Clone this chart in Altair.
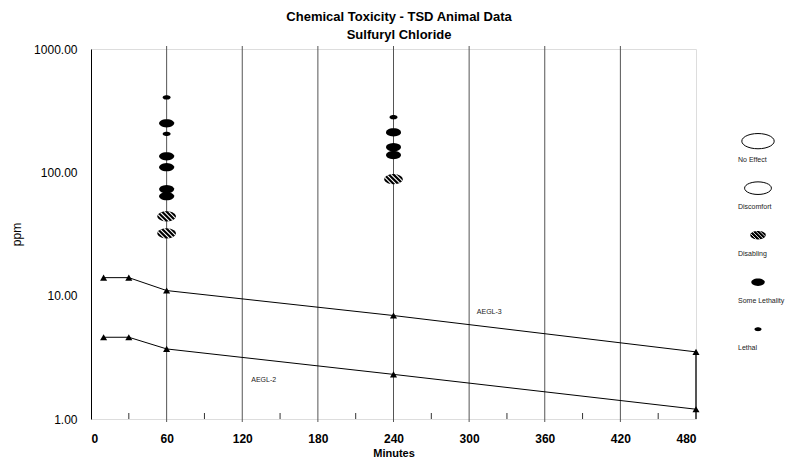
import altair as alt
import pandas as pd
import numpy as np

# ---- data ----
pt_minutes = [60, 60, 60, 60, 60, 60, 60, 60, 60, 240, 240, 240, 240, 240]
pt_ppm = [405, 250, 205, 135, 110, 73, 64, 44, 32, 280, 211, 160, 138, 88]
pt_effect = ["Lethal", "Some Lethality", "Lethal", "Some Lethality", "Some Lethality",
             "Some Lethality", "Some Lethality", "Disabling", "Disabling",
             "Lethal", "Some Lethality", "Some Lethality", "Some Lethality", "Disabling"]

aegl_minutes = [10, 30, 60, 240, 480]
aegl3_ppm = [14, 14, 11, 6.9, 3.5]
aegl2_ppm = [4.6, 4.6, 3.7, 2.3, 1.2]

label_text = ["AEGL-3", "AEGL-2"]
label_minutes = [316, 137]
label_ppm = [7.4, 2.07]

x_ticks = [0, 60, 120, 180, 240, 300, 360, 420, 480]
grid_minutes = [60, 120, 180, 240, 300, 360, 420]
minor_minutes = [30, 90, 150, 210, 270, 330, 390, 450]
y_ticks = [1, 10, 100, 1000]

legend_labels = ["No Effect", "Discomfort", "Disabling", "Some Lethality", "Lethal"]

# ---- shapes (style) ----
def ellipse_path(ry, n=28):
    t = np.linspace(0, 2 * np.pi, n, endpoint=False)
    pts = ["%.3f %.3f" % (np.cos(a), ry * np.sin(a)) for a in t]
    return "M " + " L ".join(pts) + " Z"

def hatch_path(ry, cs):
    segs = []
    for c in cs:
        a = ry * ry + 1
        b = -2 * c
        cc = c * c - ry * ry
        d = b * b - 4 * a * cc
        if d <= 0:
            continue
        x1 = (-b - np.sqrt(d)) / (2 * a)
        x2 = (-b + np.sqrt(d)) / (2 * a)
        segs.append("M %.3f %.3f L %.3f %.3f" % (x1, x1 - c, x2, x2 - c))
    return " ".join(segs)

ELL = ellipse_path(0.55)
ELL_OPEN = ellipse_path(0.47)
HATCH = hatch_path(0.55, [-0.75, -0.25, 0.25, 0.75])

FONT = "Liberation Sans"

pts = pd.DataFrame({"minutes": pt_minutes, "ppm": pt_ppm, "effect": pt_effect})
aegl = pd.DataFrame({
    "minutes": aegl_minutes * 2,
    "ppm": aegl3_ppm + aegl2_ppm,
    "series": ["AEGL-3"] * len(aegl_minutes) + ["AEGL-2"] * len(aegl_minutes),
})
labels = pd.DataFrame({"text": label_text, "minutes": label_minutes, "ppm": label_ppm})
grid = pd.DataFrame({"minutes": grid_minutes})
minor = pd.DataFrame({"minutes": minor_minutes})
end_rule = pd.DataFrame({"minutes": [aegl_minutes[-1]], "ppm": [1], "ppm2": [aegl3_ppm[-1]]})

W, H = 605, 370

X = alt.X("minutes:Q",
          scale=alt.Scale(domain=[0, 480], nice=False, zero=False),
          axis=alt.Axis(values=x_ticks, grid=False, ticks=False, domain=False,
                        labelPadding=14, labelFontSize=12, labelFontWeight="bold",
                        labelColor="black", labelFont=FONT,
                        title="Minutes", titleFontSize=11, titleFontWeight="bold",
                        titleColor="black", titleFont=FONT, titlePadding=3))
Y = alt.Y("ppm:Q",
          scale=alt.Scale(type="log", domain=[1, 1000], nice=False),
          axis=alt.Axis(values=y_ticks, format=".2f", grid=False, ticks=False,
                        domainColor="black", domainWidth=1,
                        labelPadding=14, labelFontSize=12, labelColor="black", labelFont=FONT,
                        title="ppm", titleFontSize=12, titleFontWeight="normal",
                        titleColor="black", titleFont=FONT, titlePadding=10))

grid_layer = alt.Chart(grid).mark_rule(color="#555", strokeWidth=1).encode(
    x=X, y=alt.value(-3), y2=alt.value(H + 3))
minor_layer = alt.Chart(minor).mark_rule(color="#333", strokeWidth=1).encode(
    x=X, y=alt.value(H - 6), y2=alt.value(H))
end_layer = alt.Chart(end_rule).mark_rule(color="#555", strokeWidth=2).encode(
    x=X, y=Y, y2="ppm2:Q")
line_layer = alt.Chart(aegl).mark_line(color="black", strokeWidth=1).encode(
    x=X, y=Y, detail="series:N")
tri_layer = alt.Chart(aegl).mark_point(shape="triangle-up", filled=True, color="black",
                                       size=50, opacity=1).encode(x=X, y=Y)
text_layer = alt.Chart(labels).mark_text(fontSize=7, font=FONT, color="#222").encode(
    x=X, y=Y, text="text:N")

def effect_layer(effect, size):
    return alt.Chart(pts).transform_filter(alt.datum.effect == effect).mark_point(
        shape=ELL, filled=True, color="black", opacity=1, strokeWidth=0, size=size
    ).encode(x=X, y=Y)

dis_dots = effect_layer("Disabling", 340)
sl_dots = effect_layer("Some Lethality", 225)
le_dots = effect_layer("Lethal", 64)
hatch = alt.Chart(pts).transform_filter(alt.datum.effect == "Disabling").mark_point(
    shape=HATCH, filled=False, color="white", strokeWidth=1.1, opacity=1, size=340).encode(
    x=X, y=Y)

main = alt.layer(grid_layer, minor_layer, end_layer, line_layer, tri_layer, text_layer,
                 dis_dots, sl_dots, le_dots, hatch).properties(width=W, height=H)

# ---- legend panel ----
leg = pd.DataFrame({"label": legend_labels, "idx": list(range(len(legend_labels)))})
LY = alt.Y("idx:Q", scale=alt.Scale(domain=[-1.96, 5.91], reverse=True, nice=False, zero=False),
           axis=None)

def leg_symbol(label, size, filled, shape):
    return alt.Chart(leg).transform_filter(alt.datum.label == label).mark_point(
        shape=shape, filled=filled, color="black", strokeWidth=0 if filled else 1,
        opacity=1, size=size).encode(x=alt.value(30), y=LY)

leg_layers = [
    leg_symbol("No Effect", 1050, False, ELL_OPEN),
    leg_symbol("Discomfort", 720, False, ELL_OPEN),
    leg_symbol("Disabling", 240, True, ELL),
    leg_symbol("Some Lethality", 180, True, ELL),
    leg_symbol("Lethal", 49, True, ELL),
    alt.Chart(leg).transform_filter(alt.datum.label == "Disabling").mark_point(
        shape=HATCH, filled=False, color="white", strokeWidth=0.9, opacity=1, size=240
    ).encode(x=alt.value(30), y=LY),
    alt.Chart(leg).mark_text(fontSize=7, font=FONT, color="#222", dy=19, dx=-20,
                             align="left").encode(
        x=alt.value(30), y=LY, text="label:N"),
]
legend = alt.layer(*leg_layers).properties(width=60, height=H, view=alt.ViewBackground(stroke=None))

chart = alt.hconcat(main, legend, spacing=27).properties(
    title=alt.TitleParams(["Chemical Toxicity - TSD Animal Data", "Sulfuryl Chloride"],
                          fontSize=13, fontWeight="bold", font=FONT, color="black",
                          anchor="middle", lineHeight=18, offset=1),
    padding={"left": 2, "top": 2, "right": 0, "bottom": 0},
).configure_view(stroke=None).configure(background="white")

chart.save("out.html", embed_options={"renderer": "svg", "actions": False})
